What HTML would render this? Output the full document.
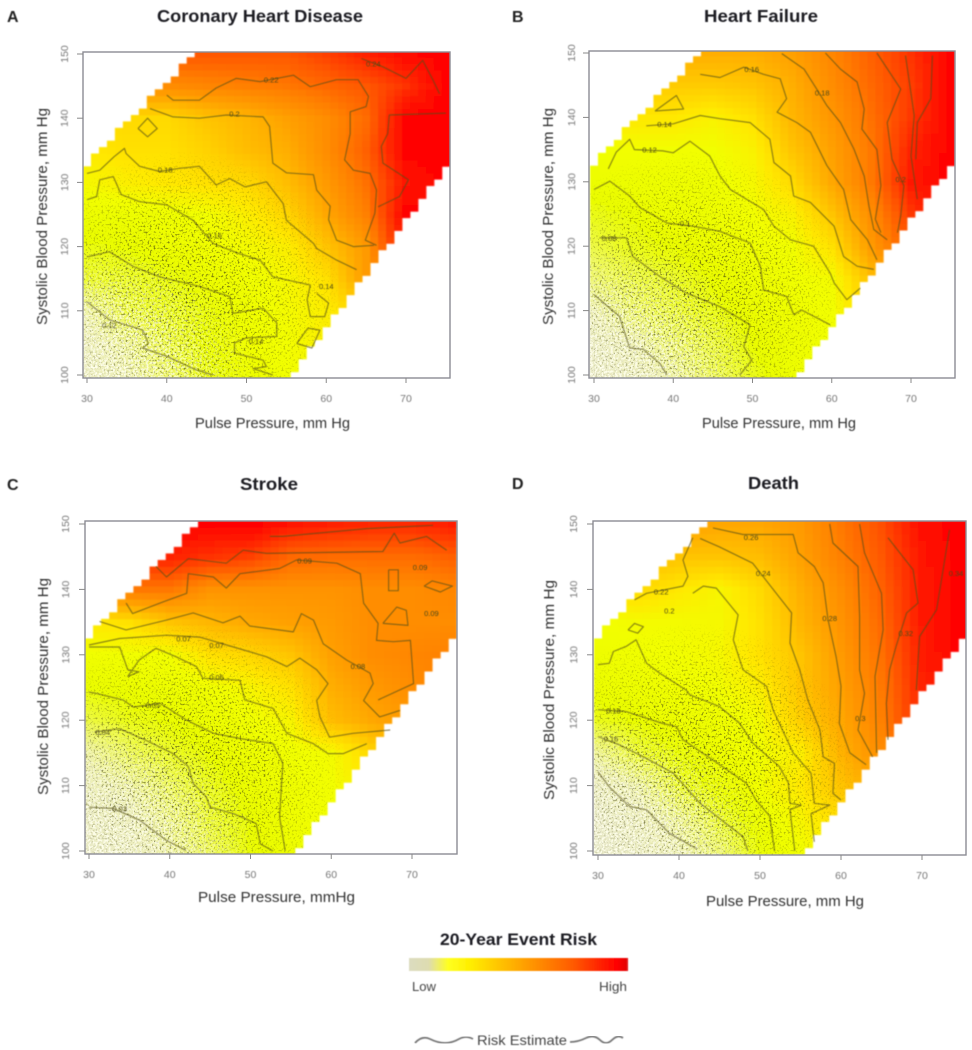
<!DOCTYPE html>
<html lang="en">
<head>
<meta charset="utf-8">
<title>20-Year Event Risk by Pulse Pressure and Systolic Blood Pressure</title>
<style>
html,body{margin:0;padding:0;background:#fff;width:972px;height:1050px;overflow:hidden}
svg{display:block;font-family:"Liberation Sans",Arial,sans-serif}
</style>
</head>
<body>
<svg id="figure" xmlns="http://www.w3.org/2000/svg" width="972" height="1050" viewBox="0 0 972 1050">
  <defs>
    <filter id="soft-heat" x="-2%" y="-2%" width="104%" height="104%"><feGaussianBlur stdDeviation="0.7"/></filter>
    <filter id="soft-line" x="-5%" y="-5%" width="110%" height="110%"><feGaussianBlur stdDeviation="0.45"/></filter>
    <filter id="soft-text" x="-5%" y="-20%" width="110%" height="140%"><feGaussianBlur stdDeviation="0.4"/></filter>
    <filter id="speck-dark" x="0" y="0" width="100%" height="100%" color-interpolation-filters="sRGB">
      <feTurbulence type="fractalNoise" baseFrequency="0.5" numOctaves="2" seed="7"/>
      <feColorMatrix type="matrix" values="0 0 0 0 0.26  0 0 0 0 0.26  0 0 0 0 0.06  6.5 0 0 0 -3.65"/>
      <feGaussianBlur stdDeviation="0.35"/>
    </filter>
    <filter id="speck-light" x="0" y="0" width="100%" height="100%" color-interpolation-filters="sRGB">
      <feTurbulence type="fractalNoise" baseFrequency="0.45" numOctaves="2" seed="19"/>
      <feColorMatrix type="matrix" values="0 0 0 0 1  0 0 0 0 1  0 0 0 0 0.93  0 7 0 0 -3.3"/>
    </filter>
    <radialGradient id="speck-fade">
      <stop offset="0" stop-color="#fff" stop-opacity="0.95"/>
      <stop offset="0.5" stop-color="#fff" stop-opacity="0.65"/>
      <stop offset="1" stop-color="#fff" stop-opacity="0"/>
    </radialGradient>
    <linearGradient id="legend-gradient" x1="0" x2="1" y1="0" y2="0">
      <stop offset="0" stop-color="#dcdcc0"/>
      <stop offset="0.09" stop-color="#dedcb0"/>
      <stop offset="0.18" stop-color="#ffff20"/>
      <stop offset="0.28" stop-color="#ffee00"/>
      <stop offset="0.5" stop-color="#ffa800"/>
      <stop offset="0.75" stop-color="#ff5a00"/>
      <stop offset="0.95" stop-color="#ff0000"/>
      <stop offset="1" stop-color="#e00808"/>
    </linearGradient>
  </defs>

  <g id="panels"></g>

  <g>
    <g filter="url(#soft-text)">
      <text x="518.5" y="945" text-anchor="middle" font-size="16.5" font-weight="bold" fill="#1a1a22" textLength="157" lengthAdjust="spacingAndGlyphs">20-Year Event Risk</text>
      <text x="412" y="991" font-size="13" fill="#444" textLength="24" lengthAdjust="spacingAndGlyphs">Low</text>
      <text x="599" y="991" font-size="13" fill="#444" textLength="28" lengthAdjust="spacingAndGlyphs">High</text>
      <text x="477" y="1045" font-size="14" fill="#444" textLength="90" lengthAdjust="spacingAndGlyphs">Risk Estimate</text>
    </g>
    <rect x="409" y="958" width="219" height="13" fill="url(#legend-gradient)" filter="url(#soft-line)"/>
    <path d="M415 1043 Q422 1035 430 1039 T445 1043 T459 1039 T473 1039" fill="none" stroke="#777" stroke-width="1.8" filter="url(#soft-line)"/>
    <path d="M570 1042 Q578 1042 586 1038 T600 1040 T612 1040 T623 1038" fill="none" stroke="#777" stroke-width="1.8" filter="url(#soft-line)"/>
  </g>
</svg>

<script>
// ---- shared axis data ----
const ppTicks = [30, 40, 50, 60, 70];
const sbpTicks = [100, 110, 120, 130, 140, 150];
const gridPp = [30, 35, 40, 45, 50, 55, 60, 65, 70, 75];
const gridSbp = [100, 105, 110, 115, 120, 125, 130, 135, 140, 145, 150];
// observed pulse-pressure range at each gridSbp row
const rangeMinPp = [29, 29, 29, 29, 29, 29, 29, 31.5, 35.5, 39.5, 43.5];
const rangeMaxPp = [55.5, 58.5, 61.5, 64.5, 67.5, 70.5, 73.5, 76, 76, 76, 76];
// colour scale
const rampValues = [0, 0.1, 0.2, 0.28, 0.33, 0.4, 0.5, 0.6, 0.7, 0.8, 0.9, 1];
const rampColors = ['#e8e8d0', '#eef0b4', '#eef858', '#eafc00', '#f2fe00', '#ffe800', '#ffc400', '#ffa000', '#ff8000', '#ff5800', '#ff2a00', '#ff0000'];

// ---- A: coronary heart disease ----
const riskA = [
  [.05,.10,.18,.26,.30,.33,.36,.40,.45,.50],
  [.08,.14,.22,.28,.32,.33,.38,.45,.50,.55],
  [.12,.22,.25,.28,.31,.34,.38,.48,.60,.70],
  [.24,.25,.27,.30,.32,.35,.42,.62,.80,.90],
  [.27,.28,.30,.32,.34,.38,.50,.62,.97,1],
  [.30,.30,.31,.33,.38,.45,.58,.70,1,1],
  [.35,.38,.40,.42,.44,.52,.62,.74,.95,1],
  [.40,.42,.42,.46,.52,.56,.66,.78,1,1],
  [.44,.44,.44,.50,.54,.60,.66,.75,1,1],
  [.66,.66,.66,.68,.70,.72,.76,.80,.88,1],
  [.80,.80,.80,.80,.80,.80,.85,.92,.98,1]
];
const contoursAPp = [
  [40,40.8,44.1,46.2,48.7,51.7,55.9,58,61.3,64,65.3,65,63,63,62.3,63.4,65.5,66.3,66.1,64.9,66.3],
  [37.9,40.8,44.1,47.5,52.1,52.9,53.3,55,58.4,58.8,60.5,60.3,61.3,63.4,66],
  [30,31.6,33.4,34.7,34.9,36.6,39.1,41.6,44.1,46.2,47.9,49.8,52.5,54.6,55,58.4,58.8,61.3,63.8],
  [30,31.2,31.6,33.3,34.3,36.6,40,43.3,45.8,49.1,51.7,53.3,58,57.6,58,59.8,60.3,58.8],
  [30,32.8,35.8,39.1,44.1,47.9,48.3,52.1,53.8,53.8,50,48.5,48.5,52.1,52.5,50.8,53.3],
  [30,32.8,37,37.7,37,40,43.7,45.8],
  [36.4,37.6,38.8,37.6,36.4],
  [56.3,57.7,59.2,58.2,56.3],
  [66.5,69.2,70.3,67.1,66.9,67.7,67.9,75],
  [64.4,67.1,70,72.1,73.4,74.2]
];
const contoursASbp = [
  [143.6,142.8,142.8,144.7,146.2,145.7,146.7,144.9,146,146,143.4,141.8,141,137.6,133.5,131.9,131.4,128.8,125.2,121,120.2],
  [141.5,140.2,140,140.5,140.2,138.7,133,131.5,131.2,128.8,126.3,124.2,121,120,120.2],
  [131.4,131.9,134,135.3,134.5,132.5,131.7,132.2,132.5,129.6,130.6,129.3,130.1,126.7,124.1,120.5,119.7,117.9,116.4],
  [127.3,127.8,130.4,130.9,128.1,127,126.5,124.1,120.5,118.9,117.9,115.3,114,111.7,109.1,109.1,111.2,112.7],
  [118.4,119.2,116.9,115.3,113.8,112.2,109.6,110.4,108.1,106,105.8,105,103.4,102.3,101.3,101,100],
  [111.4,108.6,107,104.9,104.2,102.9,100.8,100],
  [138.4,140,138.4,137.1,138.4],
  [104.9,107.3,107,104.2,104.9],
  [126.2,127.8,130.4,133,135.6,137.6,140.5,140.8],
  [149.3,148,146.2,149,145.9,143.8]
];
const labelsAText = ['0.22','0.2','0.18','0.16','0.14','0.14','0.24','0.12'];
const labelsAPp = [53.1,48.5,39.8,46,51.2,60,65.9,32.8];
const labelsASbp = [146,140.7,132,121.8,105.3,113.9,148.5,107.8];

// ---- B: heart failure ----
const riskB = [
  [.03,.06,.12,.20,.26,.30,.33,.38,.46,.50],
  [.05,.10,.18,.23,.28,.30,.33,.42,.52,.58],
  [.10,.18,.23,.27,.29,.31,.33,.46,.60,.70],
  [.18,.22,.25,.28,.30,.32,.34,.52,.65,.80],
  [.22,.26,.28,.30,.31,.33,.42,.62,.80,1],
  [.26,.28,.30,.30,.33,.37,.50,.66,.87,1],
  [.30,.30,.30,.31,.35,.44,.58,.72,.94,1],
  [.32,.33,.33,.33,.37,.50,.60,.72,.92,1],
  [.40,.40,.40,.37,.42,.54,.63,.74,.87,1],
  [.48,.48,.48,.48,.50,.56,.66,.76,.86,1],
  [.56,.56,.56,.56,.56,.60,.68,.78,.88,1]
];
const contoursBPp = [
  [30,33.2,34.5,36.2,38.3,39.2],
  [30.7,34.1,34.9,38.3,41.7,45.9,49.7,48.9,49.9,48.4],
  [30,32,34.5,35.8,39.2,42.5,45.9,49.7,51,51.4,54.3,55.2,56.2,59.8],
  [31.8,32.8,34.5,35.1,38.7,40,42.1,44.6,45.9,47.2,51.4,52.7,54.8,57.7,59.8,60.3,61.9,63.6],
  [36.6,40,43.4,45.9,49.7,52.2,52.7,54.8,55.2,57.3,60.3,61.5,63.2,65.3],
  [37.7,40.4,41.3,37.7],
  [43.4,45.9,48.9,51.4,53.5,54.3,53.1,55.6,57.3,59.4,61.5,62.4,64.5,65.7],
  [53.7,56.5,58.1,59.4,61.1,62.8,64.1,64.7,65.3,67],
  [59.2,61.1,63.2,64.1,63.8,65.7,66.2,65.5,66.2],
  [65.7,68.7,67,67.6,69.1,68.7,68.3],
  [69.3,70.4,70,70.8],
  [72.7,72.5,70.8,70.6]
];
const contoursBSbp = [
  [112.5,109.1,104.2,104,101.8,100],
  [121.3,121.3,118.4,115.3,112.7,110.6,107.8,104.4,102.3,100],
  [128.8,130.1,127.8,126,123.6,123.1,122.3,120.5,116.9,113.2,112.2,109.4,110.1,107.8],
  [132,134.6,136.6,135,134.8,134.5,136.3,134,130.9,128.8,125.7,123.1,121,120,115.8,114.3,111.7,113.5],
  [138.7,139,140.3,139.8,139.2,136.6,133,130.9,127.8,126.8,123.1,118.4,116.9,116.4],
  [141,143.4,141.3,141],
  [146.7,146.2,147.8,146.7,146,142.9,140.8,139.2,137.7,132.5,128.8,124.1,121,117.9],
  [149.9,147.5,144.4,141.8,139.2,135.1,130.9,126.2,122.6,121],
  [150,147.5,145.5,141.3,138.2,135,129.4,124.2,122.1],
  [150,144.4,139.2,133.5,129.4,124.7,122.1],
  [149.6,140.3,134,127.3],
  [149.6,142.9,139.2,133.5]
];
const labelsBText = ['0.16','0.14','0.12','0.1','0.08','0.18','0.2'];
const labelsBPp = [49.9,38.9,37,41.5,31.9,58.8,68.7];
const labelsBSbp = [147.5,139,135,123.6,121.3,143.9,130.4];

// ---- C: stroke ----
const riskC = [
  [.03,.06,.12,.20,.28,.30,.33,.36,.40,.44],
  [.05,.08,.15,.24,.28,.31,.33,.38,.42,.46],
  [.08,.12,.20,.26,.29,.31,.33,.40,.45,.50],
  [.12,.20,.25,.28,.30,.32,.34,.45,.52,.58],
  [.22,.26,.28,.30,.32,.36,.52,.58,.62,.66],
  [.28,.29,.30,.32,.36,.42,.56,.62,.66,.70],
  [.32,.33,.33,.42,.45,.50,.60,.66,.68,.70],
  [.40,.42,.50,.54,.58,.60,.62,.66,.66,.66],
  [.72,.72,.72,.64,.64,.64,.64,.66,.66,.68],
  [.92,.92,.92,.88,.85,.76,.75,.75,.75,.78],
  [1,1,1,1,1,.95,.92,.90,.90,.93]
];
const contoursCPp = [
  [30,33,36.3,39.6,42],
  [30.7,33.8,37.1,40.4,42.3,42.9,44.5,45,47.9,50.7,51.2,52.8],
  [30,30.9,34.2,35.5,38.8,42.1,45.4,48.7,52.8,54,53.6,54.3],
  [30,33.8,34.8,36.2,34.8,36.2,38.3,40.8,43.3,44.1,48.7,49.3,52.8,54.5,57.8,59.6,61.5,64.4],
  [30,33.8,39.6,43.7,47.9,52,54.5,56.1,58.2,59.6,58.2,58.6,59.8,62.7,67.3],
  [31.3,34.6,39.6,42.9,46.6,48.7,49.9,55.3,56.3,57.8,59,61.9,64.8,65.2,64,66,68.5],
  [34.6,35.4,37.5,39.2,42.1,42.3,45.4,47,48.7,53.6,55.7,60.7,63.6,64,65.8,65.6,67.7,69.8,70.2,65.8],
  [38.3,39.6,42.3,47,49.1,52,66.4,67.8,68.5,71.8,74.3],
  [52.4,54,64.4,72.6],
  [66.4,68.1,69.3,69.5,66.4],
  [67.1,67.1,68.3,68.3,67.1],
  [71.5,72.5,75,73.5,71.5]
];
const contoursCSbp = [
  [106.7,106.5,104.7,101.6,100.1],
  [118.2,118.7,116.9,114.9,112.9,110.3,108.3,106.7,105.7,104.2,101.1,100],
  [124.3,124.1,123.1,122,122.6,120,118,117.2,116.4,113.4,105.2,100],
  [131.2,131.2,127.7,127.4,126.7,129.2,131,129.7,128.2,126.4,126.1,123.1,121.8,118,116.4,114.9,114.9,116.4],
  [131.5,132.5,133,132.7,131.2,129.7,128.2,129.5,127.7,125.6,123,120.5,117.4,118,118.5],
  [135.1,133.8,135.3,136.4,134.9,135.9,134.4,133.5,136.3,135.3,131.7,129.2,127.2,125.6,123,120.5,121.5],
  [137.9,136.3,137.3,138.1,139.4,142.4,141.9,140.2,142.4,143.2,144.5,144,142.4,137.9,134.8,132.2,132,132.2,125.6,123.1],
  [143.5,141.9,144.7,144,146,145.5,145.8,148.6,147.1,148.1,146],
  [148.1,148.1,149.3,149.8],
  [134.8,137.3,136.8,134.5,134.8],
  [143,139.8,139.8,143,143],
  [140.5,141.3,140.5,139.6,140.5]
];
const labelsCText = ['0.09','0.09','0.09','0.08','0.07','0.07','0.06','0.05','0.04','0.03'];
const labelsCPp = [56.7,71,72.4,63.3,41.7,45.8,45.8,37.9,31.7,33.8];
const labelsCSbp = [144.4,143.4,136.4,128.3,132.5,131.5,126.6,122.3,118.2,106.5];

// ---- D: death ----
const riskD = [
  [.02,.05,.10,.18,.28,.33,.40,.50,.60,.70],
  [.03,.07,.14,.24,.30,.36,.44,.55,.65,.75],
  [.06,.12,.24,.29,.33,.40,.50,.60,.72,.85],
  [.14,.24,.28,.31,.33,.38,.55,.66,.90,1],
  [.26,.28,.30,.31,.34,.47,.58,.70,.92,1],
  [.29,.30,.32,.33,.38,.50,.60,.72,.92,1],
  [.31,.32,.33,.35,.42,.50,.62,.74,.93,1],
  [.33,.34,.34,.35,.42,.54,.64,.76,.94,1],
  [.44,.44,.40,.36,.44,.56,.66,.78,.94,1],
  [.52,.52,.50,.50,.52,.60,.70,.80,.95,1],
  [.60,.60,.60,.58,.58,.62,.72,.82,.97,1]
];
const contoursDPp = [
  [30,31.4,33.9,36,38.8,42.1],
  [30,32.7,35.6,39.3,42.6,45.8,47.9,48.5],
  [30,33.5,38,39.7,40.5,44.2,48.3,49.5,51.2,51.8],
  [30,31.4,31.9,33.5,34.7,36,37.6,40.9,41.3,45,47.5,49.1,52.4,53.5,53.7,55.1,53.7,54.3],
  [33.7,34.5,35.6,34.9,33.7],
  [41.7,43,44.6,47.3,46.7,47.9,50.8,51.6,54.1,56.3,56.7,58.6,56.3,56.7],
  [42.6,45,49.1,52,53.9,53.7,54.9,55.9,57.4,57.8,59.2,59,60],
  [41.7,40.5,41.1,40.5,36,34.5],
  [44.2,47.9,54.1,54.7,56.7,57.8,58.4,59.4,60,59.8,61.1,63.1],
  [58.6,59,62.1,62.3,62.3,62.9,62.1,63.9],
  [62.3,62.9,65,65.2,64.2,64.4],
  [65.8,68.9,69.5,68.1,66.8,66,65.6,65.8],
  [73.4,72.6,71.8,69.7,69.3]
];
const contoursDSbp = [
  [112.1,109.8,106.8,106.3,102.7,100.4],
  [117.5,116.2,114.4,111.9,107.3,104.2,102.2,100],
  [121.6,121.3,119.5,119,117,113.9,110.4,107.8,105.3,100],
  [128.5,128.7,130.5,131.3,132.3,128.7,127.2,124.6,123.9,122.1,119.5,116.5,112.9,110.4,107.3,107,106.3,100],
  [133.8,134.8,134.3,133.3,133.8],
  [139.4,140.5,140.2,136.1,132.3,127.7,125.2,121.6,115,111.9,107.3,107,105.7,101.4],
  [147.8,146.5,144,139.4,136.4,131.8,127.7,123.1,118.5,114.4,113.4,108.8,107.8],
  [147.9,144.5,142,140.5,139.4,138.4],
  [149.4,148.4,148.4,145.6,143.5,141,135.4,129.7,125.2,119.5,115,113.2],
  [150,147.1,143.5,135.9,127.7,124.1,118.5,114.4],
  [150,145.6,139.4,133.8,126.7,115],
  [147.9,143,137.9,136.4,131.3,127.7,122.6,117],
  [149.1,143,136.9,132.8,124.6]
];
const labelsDText = ['0.26','0.24','0.22','0.2','0.18','0.16','0.28','0.3','0.32','0.34'];
const labelsDPp = [48.9,50.4,37.8,38.8,31.9,31.6,58.6,62.4,68,74.2];
const labelsDSbp = [148,142.5,139.7,136.8,121.5,117.2,135.6,120.3,133.3,142.5];

// ---- panel layout (pixels), separate from the data above ----
const panels = [
  {key:'a', letter:'A', letterX:7, title:'Coronary Heart Disease', titleX:157, titleW:206, titleY:22,
   frame:[83,52,450,378], xAt30:87, xAt70:406, yAt100:375, yAt150:54,
   xTickY:402, yTickX:68, xLabel:'Pulse Pressure, mm Hg', xLabelX:195, xLabelW:155, xLabelY:428,
   yLabelX:47, yLabelTop:108, yLabelBottom:325, risk:riskA, cPp:contoursAPp, cSbp:contoursASbp, lText:labelsAText, lPp:labelsAPp, lSbp:labelsASbp},
  {key:'b', letter:'B', letterX:512, title:'Heart Failure', titleX:704, titleW:114, titleY:22,
   frame:[589,51,955,378], xAt30:594, xAt70:911, yAt100:375, yAt150:53,
   xTickY:402, yTickX:575, xLabel:'Pulse Pressure, mm Hg', xLabelX:702, xLabelW:154, xLabelY:428,
   yLabelX:553, yLabelTop:108, yLabelBottom:325, risk:riskB, cPp:contoursBPp, cSbp:contoursBSbp, lText:labelsBText, lPp:labelsBPp, lSbp:labelsBSbp},
  {key:'c', letter:'C', letterX:7, title:'Stroke', titleX:240, titleW:58, titleY:490,
   frame:[85,521,457,854], xAt30:89, xAt70:412, yAt100:851, yAt150:524,
   xTickY:878, yTickX:69, xLabel:'Pulse Pressure, mmHg', xLabelX:198, xLabelW:157, xLabelY:902,
   yLabelX:48, yLabelTop:578, yLabelBottom:795, risk:riskC, cPp:contoursCPp, cSbp:contoursCSbp, lText:labelsCText, lPp:labelsCPp, lSbp:labelsCSbp},
  {key:'d', letter:'D', letterX:512, title:'Death', titleX:748, titleW:51, titleY:489,
   frame:[593,521,966,855], xAt30:598, xAt70:922, yAt100:851, yAt150:524,
   xTickY:879, yTickX:577, xLabel:'Pulse Pressure, mm Hg', xLabelX:706, xLabelW:158, xLabelY:906,
   yLabelX:554, yLabelTop:580, yLabelBottom:800, risk:riskD, cPp:contoursDPp, cSbp:contoursDSbp, lText:labelsDText, lPp:labelsDPp, lSbp:labelsDSbp}
];

const NS = 'http://www.w3.org/2000/svg';
function make(tag, attrs, parent) {
  const el = document.createElementNS(NS, tag);
  for (const k in attrs) el.setAttribute(k, attrs[k]);
  if (parent) parent.appendChild(el);
  return el;
}
function hexToRgb(h) {
  return [parseInt(h.substr(1,2),16), parseInt(h.substr(3,2),16), parseInt(h.substr(5,2),16)];
}
function riskColor(v) {
  v = Math.max(0, Math.min(1, v));
  let i = 0;
  while (i < rampValues.length - 2 && v > rampValues[i + 1]) i++;
  const t = (v - rampValues[i]) / (rampValues[i + 1] - rampValues[i]);
  const a = hexToRgb(rampColors[i]), b = hexToRgb(rampColors[i + 1]);
  return 'rgb(' + a.map((c, n) => Math.round(c + (b[n] - c) * t)).join(',') + ')';
}
function bracket(axis, v) {
  let i = 0;
  while (i < axis.length - 2 && v > axis[i + 1]) i++;
  return [i, (v - axis[i]) / (axis[i + 1] - axis[i])];
}
function sampleRisk(grid, pp, sbp) {
  const [c, tc] = bracket(gridPp, pp);
  const [r, tr] = bracket(gridSbp, sbp);
  const low = grid[r][c] + (grid[r][c + 1] - grid[r][c]) * tc;
  const high = grid[r + 1][c] + (grid[r + 1][c + 1] - grid[r + 1][c]) * tc;
  return low + (high - low) * tr;
}
function rangeAt(list, sbp) {
  const [r, t] = bracket(gridSbp, sbp);
  return list[r] + (list[r + 1] - list[r]) * t;
}

const root = document.getElementById('panels');
panels.forEach(function (p) {
  const xScale = pp => p.xAt30 + (pp - 30) * (p.xAt70 - p.xAt30) / 40;
  const yScale = sbp => p.yAt100 + (sbp - 100) * (p.yAt150 - p.yAt100) / 50;
  const cellW = (p.xAt70 - p.xAt30) / 40;
  const cellH = (p.yAt100 - p.yAt150) / 50;
  const [fx0, fy0, fx1, fy1] = p.frame;

  const panel = make('g', {}, root);
  
  

  const clip = make('clipPath', {id: 'clip-' + p.key}, panel);
  make('rect', {x: fx0, y: fy0, width: fx1 - fx0, height: fy1 - fy0}, clip);
  const validClip = make('clipPath', {id: 'valid-' + p.key}, panel);

  const plot = make('g', {'clip-path': 'url(#clip-' + p.key + ')'}, panel);
  
  

  // heatmap
  const heat = make('g', {filter: 'url(#soft-heat)'}, plot);
  
  
  for (let sbp = 100; sbp <= 150; sbp++) {
    const lo = rangeAt(rangeMinPp, sbp), hi = rangeAt(rangeMaxPp, sbp);
    const first = Math.max(30, Math.ceil(lo)), last = Math.min(75, Math.floor(hi));
    make('rect', {
      x: (xScale(first) - cellW / 2).toFixed(2),
      y: (yScale(sbp) - cellH / 2).toFixed(2),
      width: (cellW * (last - first + 1)).toFixed(2),
      height: (cellH + 0.4).toFixed(2)
    }, validClip);
    for (let pp = first; pp <= last; pp++) {
      const cell = make('rect', {
        x: (xScale(pp) - cellW / 2).toFixed(2),
        y: (yScale(sbp) - cellH / 2).toFixed(2),
        width: (cellW + 0.4).toFixed(2),
        height: (cellH + 0.4).toFixed(2),
        fill: riskColor(sampleRisk(p.risk, pp, sbp))
      }, heat);
      
      
    }
  }

  // observation speckle texture over the dense, low-pressure region
  const darkMask = make('mask', {id: 'dark-mask-' + p.key, maskUnits: 'userSpaceOnUse', x: fx0, y: fy0, width: fx1 - fx0, height: fy1 - fy0}, panel);
  make('ellipse', {cx: xScale(42), cy: yScale(112), rx: cellW * 20, ry: cellH * 23, fill: 'url(#speck-fade)'}, darkMask);
  const lightMask = make('mask', {id: 'light-mask-' + p.key, maskUnits: 'userSpaceOnUse', x: fx0, y: fy0, width: fx1 - fx0, height: fy1 - fy0}, panel);
  make('ellipse', {cx: xScale(31), cy: yScale(100), rx: cellW * 20, ry: cellH * 20, fill: 'url(#speck-fade)'}, lightMask);

  const speckles = make('g', {'clip-path': 'url(#valid-' + p.key + ')'}, plot);
  
  
  const darkSpecks = make('g', {mask: 'url(#dark-mask-' + p.key + ')', opacity: '0.85'}, speckles);
  
  
  make('rect', {x: fx0, y: fy0, width: fx1 - fx0, height: fy1 - fy0, filter: 'url(#speck-dark)'}, darkSpecks);
  const lightSpecks = make('g', {mask: 'url(#light-mask-' + p.key + ')'}, speckles);
  
  
  make('rect', {x: fx0, y: fy0, width: fx1 - fx0, height: fy1 - fy0, filter: 'url(#speck-light)'}, lightSpecks);

  // contours
  const lines = make('g', {fill: 'none', stroke: '#544f18', 'stroke-opacity': '0.66', 'stroke-width': '1.2', 'stroke-linejoin': 'round', filter: 'url(#soft-line)'}, plot);
  
  
  p.cPp.forEach(function (xs, i) {
    const ys = p.cSbp[i];
    const pts = xs.map((v, n) => xScale(v).toFixed(1) + ',' + yScale(ys[n]).toFixed(1)).join(' ');
    const line = make('polyline', {points: pts}, lines);
    
    
  });

  // contour labels
  const labels = make('g', {'font-size': '7.5', fill: '#4e4a18', 'text-anchor': 'middle', filter: 'url(#soft-line)'}, plot);
  
  
  p.lText.forEach(function (t, i) {
    const label = make('text', {x: xScale(p.lPp[i]).toFixed(1), y: (yScale(p.lSbp[i]) + 3).toFixed(1)}, labels);
    label.textContent = t;
    
    
  });

  // frame
  const frame = make('rect', {x: fx0, y: fy0, width: fx1 - fx0, height: fy1 - fy0, fill: 'none', stroke: '#8c8c94', 'stroke-width': '1.4'}, panel);
  
  

  // axes
  const xAxis = make('g', {}, panel);
  
  
  ppTicks.forEach(function (v) {
    const tick = make('line', {x1: xScale(v), x2: xScale(v), y1: fy1, y2: fy1 + 5, stroke: '#888', 'stroke-width': '1'}, xAxis);
    
    
    const label = make('text', {x: xScale(v), y: p.xTickY, 'text-anchor': 'middle', 'font-size': '10.5', fill: '#777', filter: 'url(#soft-text)'}, xAxis);
    label.textContent = String(v);
    
    
  });
  const yAxis = make('g', {}, panel);
  
  
  sbpTicks.forEach(function (v) {
    const tick = make('line', {x1: fx0 - 6, x2: fx0, y1: yScale(v), y2: yScale(v), stroke: '#888', 'stroke-width': '1'}, yAxis);
    
    
    const label = make('text', {x: p.yTickX, y: yScale(v), 'text-anchor': 'middle', 'font-size': '10.5', fill: '#777', filter: 'url(#soft-text)', transform: 'rotate(-90 ' + p.yTickX + ' ' + yScale(v) + ')'}, yAxis);
    label.textContent = String(v);
    
    
  });

  // texts
  const texts = make('g', {filter: 'url(#soft-text)'}, panel);
  
  

  const letter = make('text', {x: p.letterX, y: p.titleY, 'font-size': '16', 'font-weight': 'bold', fill: '#222'}, texts);
  letter.textContent = p.letter;
  
  

  const title = make('text', {x: p.titleX, y: p.titleY, 'font-size': '17.5', 'font-weight': 'bold', fill: '#1c1c22', textLength: p.titleW, lengthAdjust: 'spacingAndGlyphs'}, texts);
  title.textContent = p.title;
  
  

  const xTitle = make('text', {x: p.xLabelX, y: p.xLabelY, 'font-size': '15', fill: '#333', textLength: p.xLabelW, lengthAdjust: 'spacingAndGlyphs'}, texts);
  xTitle.textContent = p.xLabel;
  
  

  const yTitle = make('text', {x: p.yLabelX, y: p.yLabelBottom, 'font-size': '15', fill: '#333', textLength: p.yLabelBottom - p.yLabelTop, lengthAdjust: 'spacingAndGlyphs', transform: 'rotate(-90 ' + p.yLabelX + ' ' + p.yLabelBottom + ')'}, texts);
  yTitle.textContent = 'Systolic Blood Pressure, mm Hg';
  
  
});
</script>
</body>
</html>
